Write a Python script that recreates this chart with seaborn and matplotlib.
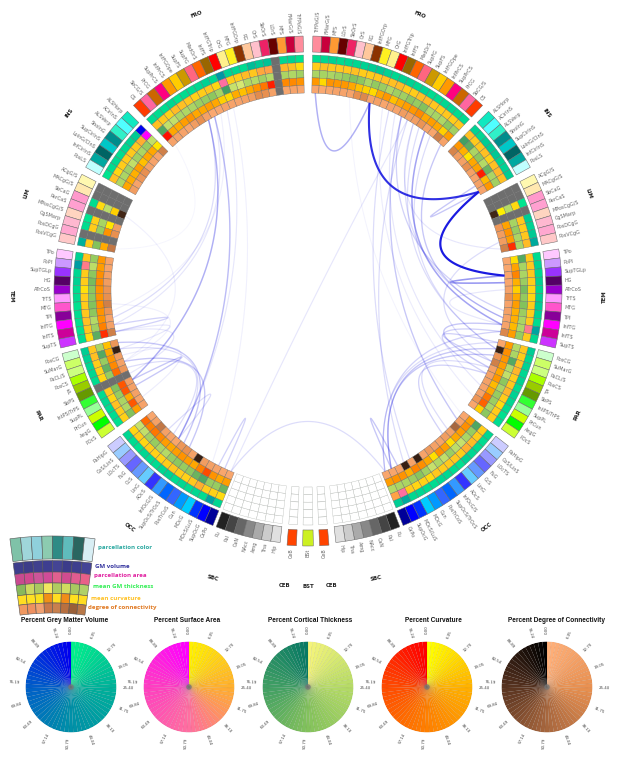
import numpy as np
import matplotlib
matplotlib.use("Agg")
import matplotlib.pyplot as plt
import seaborn as sns

W, H = 618, 757
CX, CY = 308, 290

n = np.nan  # parcels with no data are drawn grey

# parcel names per lobe, clockwise on the right hemisphere
fro_names = ["TrFPoG/S", "FMarG/S", "MFS", "LOrS", "SbOrS", "OrS", "RG", "InfFGOrp", "MFG", "OrG", "InfFGTrip",
             "InfFS", "MedOrS", "SupFG", "SupFS", "InfFGOpe", "InfPrCS", "SupPrCS", "PrCG", "SbCG/S", "CS"]
ins_names = ["ALSHorp", "ACirInS", "ALSVerp", "ShoInG", "SupCirInS", "LoInG/CInS", "InfCirInS", "PosLS"]
lim_names = ["ACgG/S", "MACgG/S", "SbCaG", "PerCaS", "MPosCgG/S", "CgSMarp", "PosDCgG", "PosVCgG"]
tem_names = ["TPo", "PoPl", "SupTGLp", "HG", "ATrCoS", "TrTS", "MTG", "TPl", "InfTG", "InfTS", "SupTS"]
par_names = ["PosCG", "SuMarG", "PaCL/S", "PosCS", "JS", "SbPS", "IntPS/TrPS", "SupPL", "PrCun", "AngG", "POcS"]
occ_names = ["PaHipG", "CoS/LinS", "LOcTS", "FuG", "CcS", "LinG", "AOcS", "InfOcG/S", "SupOcS/TrOcS", "PosTrCoS",
             "Cun", "MOcG", "MOcS/LuS", "SupOcG", "OcPo"]
sbc_names = ["Pu", "Pal", "CaN", "NAcc", "Amg", "Tha", "Hip"]

# parcellation colours
fro_colors = ["#FF8C9C", "#C8003C", "#FF9933", "#660000", "#EE2266", "#FFC0CC", "#FFC89C", "#8C3300", "#FFF020",
              "#FFF08C", "#FF0000", "#996600", "#FF6600", "#FF6680", "#CC9900", "#FFCC00", "#FF9900", "#FF0080",
              "#CC6600", "#FF66A0", "#FF3C00"]
ins_colors = ["#10E8C0", "#50FFFF", "#30F0C8", "#008C8C", "#00C8C8", "#006464", "#00A8A0", "#C0FFFF"]
lim_colors = ["#FFF8B0", "#FFE8B0", "#FF99CC", "#FFA0D0", "#FFD4C0", "#FFB8D0", "#FFA8D0", "#FFC8C8"]
tem_colors = ["#FFC8FF", "#CC99FF", "#9933FF", "#550066", "#9900CC", "#FF99FF", "#FF55CC", "#880099", "#FF00FF",
              "#CC0099", "#CC33FF"]
par_colors = ["#CCFFCC", "#CCFF66", "#CCFF80", "#AAFF00", "#99CC00", "#669900", "#33FF33", "#99FF99", "#CCFF00",
              "#00FF00", "#CCFF33"]
occ_colors = ["#CCCCFF", "#99CCFF", "#9999FF", "#6666FF", "#6699FF", "#66CCFF", "#3333FF", "#3399FF", "#0066FF",
              "#3366FF", "#0099FF", "#00CCFF", "#0033FF", "#0000FF", "#000099"]
sbc_colors = ["#222222", "#444444", "#666666", "#888888", "#AAAAAA", "#CCCCCC", "#E0E0E0"]
ceb_color = "#FF4400"
bst_color = "#CCF022"

# percent values, rings are GM volume, area, thickness, curvature, degree
fro_r = [[8, 10, 12, 8, 10, 10, 12, 14, 16, 12, 10, 12, 12, 10, 12, 8, 8, 10, 10, 8, 8],
         [14, 18, 16, 16, 16, 18, 14, 14, 16, 18, 18, 20, 14, 14, 18, 20, 16, 14, 16, 14, 16],
         [30, 32, 30, 35, 42, 50, 45, 30, 42, 38, 28, 36, 35, 45, 40, 50, 30, 32, 28, 45, 35],
         [38, 12, 40, 38, 38, 30, 20, 15, 12, 30, 38, 20, 30, 35, 38, 45, 30, 35, 30, 15, 35],
         [8, 6, 8, 10, 10, 10, 25, 30, 10, 12, 8, 10, 10, 15, 12, 14, 22, 10, 8, 35, 10]]
fro_l = [[6, 12, 10, n, 18, 15, 20, 8, 10, 12, 45, 10, 12, 10, 8, 8, 5, 10, 8, 8, 8],
         [8, 18, 22, n, 30, 28, 16, 20, 14, 14, 50, 10, 16, 14, 12, 16, 18, 20, 12, 16, 18],
         [35, 28, 30, n, 25, 35, 25, 28, 12, 18, 75, 32, 45, 40, 38, 30, 28, 30, 20, 20, 70],
         [40, 45, 45, n, 90, 55, 40, 30, 20, 28, 12, 15, 30, 35, 30, 30, 40, 35, 28, 30, 95],
         [8, 10, 8, n, 12, 25, 28, 15, 12, 10, 10, 12, 8, 6, 12, 25, 15, 8, 10, 12, 10]]
ins_r = [[12, 10, 14, 15, 16, 12, 12, 14],
         [18, 15, 16, 18, 12, 18, 22, 18],
         [75, 65, 30, 45, 25, 60, 30, 35],
         [38, 25, 8, 30, 32, 90, 22, 38],
         [32, 15, 12, 25, 12, 10, 12, 10]]
ins_l = [[100, 15, 12, 10, 8, 10, 8, 5],
         [100, 25, 15, 15, 14, 14, 10, 18],
         [20, 40, 30, 35, 20, 35, 30, 28],
         [8, 30, 30, 20, 35, 25, 28, 30],
         [35, 10, 10, 12, 25, 20, 10, 15]]
lim_r = [[n, n, 5, n, 14, 12, 15, 30],
         [n, n, 8, n, 16, 14, 16, 20],
         [n, n, 25, n, 32, 40, 30, 30],
         [n, n, 5, n, 32, 40, 35, 85],
         [n, n, 82, n, 20, 15, 15, 35]]
lim_l = [[n, n, 8, n, 5, 8, n, 25],
         [n, n, 8, n, 12, 14, n, 14],
         [n, n, 22, n, 32, 40, n, 50],
         [n, n, 15, n, 8, 40, n, 28],
         [n, n, 82, n, 15, 25, n, 40]]
tem_r = [[8, 12, 10, 12, 10, 12, 14, 12, 8, 35, 10],
         [15, 16, 16, 14, 10, 10, 14, 14, 16, 45, 15],
         [68, 32, 30, 38, 55, 42, 50, 38, 30, 28, 40],
         [10, 32, 48, 25, 15, 28, 35, 25, 25, 22, 35],
         [8, 8, 8, 8, 10, 25, 10, 12, 10, 10, 30]]
tem_l = [[12, 40, 10, 12, 8, 8, 6, 8, 6, 6, 8],
         [16, 45, 14, 14, 6, 14, 14, 16, 18, 16, 8],
         [40, 22, 45, 55, 45, 45, 50, 45, 25, 35, 65],
         [38, 35, 42, 45, 40, 40, 42, 40, 40, 50, 85],
         [10, 10, 12, 15, 22, 25, 35, 22, 10, 12, 35]]
par_r = [[14, 10, 12, 10, 12, 8, 12, 10, 8, 6, 8],
         [16, 14, 18, 22, 14, 16, 22, 14, 8, 14, 14],
         [25, 30, 68, 25, 20, 45, 30, 40, 38, 30, 45],
         [35, 42, 38, 35, 30, 38, 22, 30, 55, 65, 15],
         [8, 85, 22, 35, 12, 12, 12, 10, 10, 20, 8]]
par_l = [[14, 12, 10, 10, 8, n, 8, 10, 8, 8, 6],
         [16, 18, 14, 12, 10, n, 16, 10, 18, 14, 12],
         [30, 68, 40, 62, 40, n, 50, 40, 30, 28, 50],
         [20, 30, 40, 45, 60, n, 70, 70, 28, 70, 35],
         [20, 85, 15, 12, 20, n, 14, 12, 12, 10, 10]]
occ_r = [[10, 8, 8, 10, 12, 6, 8, 10, 10, 8, 8, 10, 10, 30, 14],
         [14, 14, 20, 25, 14, 16, 15, 14, 16, 8, 12, 10, 14, 50, 30],
         [70, 40, 30, 18, 22, 38, 20, 28, 18, 35, 48, 38, 30, 30, 25],
         [35, 42, 35, 30, 10, 35, 42, 10, 30, 42, 48, 25, 40, 40, 35],
         [8, 10, 50, 12, 15, 10, 12, 18, 10, 85, 10, 85, 10, 8, 8]]
occ_l = [[10, 8, 6, 10, 8, 8, 10, 12, 8, 10, 8, 10, 8, 35, 10],
         [10, 14, 10, 14, 12, 12, 14, 16, 14, 12, 16, 25, 14, 12, 8],
         [18, 20, 35, 40, 30, 25, 40, 45, 40, 45, 60, 70, 40, 40, 60],
         [60, 50, 55, 45, 35, 30, 35, 40, 35, 30, 50, 75, 40, 30, 35],
         [8, 12, 40, 12, 10, 8, 20, 25, 12, 85, 15, 12, 10, 8, 8]]

# links, hemisphere + parcel at both ends and strength
links_r = [("TrFPoG/S", "MFG", .4), ("MFG", "PosLS", .9), ("PosLS", "SupTGLp", .98), ("SupFG", "CoS/LinS", .3),
           ("SupPrCS", "InfTS", .45), ("CS", "InfTG", .3), ("SupFG", "TPl", .25), ("PosDCgG", "PosCS", .2),
           ("SupTS", "OcPo", .25), ("PosCG", "OcPo", .2), ("SuMarG", "SupOcG", .3), ("PaCL/S", "SupOcG", .3),
           ("PosCG", "PosCS", .25), ("SupTGLp", "HG", .5), ("InfCirInS", "PosLS", .3), ("MOcS/LuS", "SupOcG", .3),
           ("SupFS", "MOcG", .2), ("InfFS", "Cun", .2), ("MedOrS", "SupPL", .15), ("InfFGTrip", "AngG", .12),
           ("InfFGOpe", "InfTG", .2), ("InfPrCS", "SuMarG", .2), ("SupTS", "SbPS", .25), ("InfTS", "JS", .3),
           ("SbPS", "CcS", .25), ("JS", "FuG", .2), ("PosVCgG", "InfFGOpe", .15), ("ATrCoS", "InfTS", .15),
           ("PrCG", "SuMarG", .2), ("OrS", "PaHipG", .08)]
links_l = [("SupFS", "IntPS/TrPS", .4), ("SupFS", "InfTG", .2), ("SupFG", "LinG", .35), ("SupFG", "InfTS", .15),
           ("InfFS", "LinG", .15), ("MedOrS", "TPl", .1), ("SbCaG", "PosCS", .1), ("IntPS/TrPS", "SupPL", .3),
           ("MOcS/LuS", "SupOcG", .25), ("InfTS", "SupTS", .25), ("PosCG", "AOcS", .3), ("PosCS", "InfOcG/S", .3),
           ("SuMarG", "LinG", .2), ("FuG", "LinG", .2), ("JS", "CcS", .2), ("SupTS", "SuMarG", .15),
           ("MTG", "PosCS", .1), ("CS", "PosVCgG", .06), ("PaCL/S", "AngG", .12), ("SupTS", "SbPS", .15),
           ("InfFGTrip", "MOcG", .1)]
links_x = [("OcPo", "OcPo", .2), ("OcPo", "SupFS", .15)]

# colour key
pie_titles = ["Percent Grey Matter Volume", "Percent Surface Area", "Percent Cortical Thickness", "Percent Curvature",
              "Percent Degree of Connectivity"]
pie_ticks = [0.00, 6.35, 12.70, 19.05, 25.40, 31.75, 38.10, 44.44, 50.79, 57.14, 63.49, 69.84, 76.19, 82.54, 88.89, 95.24]
gm_stops = ["#00F08C", "#00B09A", "#0090A8", "#0060C8", "#0000F0"]
area_stops = ["#FFF000", "#FFAE30", "#FF6FA0", "#FF40C0", "#FF00FF"]
thick_stops = ["#F4F47A", "#B4DA66", "#84C25C", "#42A064", "#087A64"]
curv_stops = ["#FFFF00", "#FFB000", "#FF8000", "#FF4C00", "#FF0000"]
conn_stops = ["#FFB07A", "#E89050", "#A8673E", "#5A3420", "#000000"]

# little fan at lower left explaining the rings
fan_rows = [["#7FC2A8", "#9FD6DA", "#8FD0DC", "#8CCBB0", "#2E8B85", "#5FBCBC", "#2A6660", "#D8EEF4"],
            ["#3E3E8C", "#3C3C88", "#40408E", "#3E3E90", "#444494", "#3C3C8A", "#3E3E8E", "#444496"],
            ["#C84A8F", "#D0488F", "#CC5599", "#D04C98", "#E0608F", "#D04C90", "#E05C90", "#E86088"],
            ["#88B85C", "#CCD860", "#AAC860", "#F0E860", "#B0CC60", "#D0DC60", "#A8C860", "#B0D068"],
            ["#FFDD22", "#FFE022", "#F8E020", "#F09018", "#FFDD22", "#F08C18", "#FFE020", "#FFDD22"],
            ["#F09860", "#EE9060", "#F0A070", "#C8784A", "#C8804E", "#B87040", "#9A6038", "#B87848"]]
fan_labels = ["parcellation color", "GM volume", "parcellation area", "mean GM thickness", "mean curvature",
              "degree of connectivity"]
fan_label_colors = ["#2AA8A0", "#33339E", "#E020A0", "#33EE55", "#FFC020", "#E07820"]

sns.set_theme(style="white")
plt.rcParams["font.family"] = ["DejaVu Sans"]

ring_cmaps = [sns.blend_palette(s, as_cmap=True) for s in [gm_stops, area_stops, thick_stops, curv_stops, conn_stops]]

fig = plt.figure(figsize=(W / 100, H / 100), dpi=100)
fig.patch.set_facecolor("white")


def polar_axes(cx, cy, r, rmax, z=1):
    ax = fig.add_axes([(cx - r) / W, (H - cy - r) / H, 2 * r / W, 2 * r / H], projection="polar", zorder=z)
    ax.set_theta_zero_location("N")
    ax.set_theta_direction(-1)
    ax.set_ylim(0, rmax)
    ax.set_axis_off()
    ax.patch.set_alpha(0)
    return ax


ax = polar_axes(CX, CY, 300, 300, z=2)

# lobe spans in degrees from the top
lobes = [("FRO", fro_names, fro_colors, fro_r, fro_l, 1.1, 43.4, 22.0),
         ("INS", ins_names, ins_colors, ins_r, ins_l, 45.3, 61.1, 53.4),
         ("LIM", lim_names, lim_colors, lim_r, lim_l, 62.9, 79.0, 71.0),
         ("TEM", tem_names, tem_colors, tem_r, tem_l, 80.7, 103.2, 91.3),
         ("PAR", par_names, par_colors, par_r, par_l, 104.5, 125.7, 115.0),
         ("OCC", occ_names, occ_colors, occ_r, occ_l, 127.9, 158.0, 143.0),
         ("SBC", sbc_names, sbc_colors, None, None, 158.8, 173.7, None)]

R_IN, R_RING, R_OUT0, R_OUT1 = 197, 7.6, 238, 254
LABEL_R = 257
anchors = {}


def draw_outer(sign, a, wd, color, name):
    th = np.radians(sign * a)
    ax.bar(th, R_OUT1 - R_OUT0, width=np.radians(wd), bottom=R_OUT0, color=color, edgecolor="#666666", linewidth=.35)
    if sign > 0:
        ax.text(th, LABEL_R, name, rotation=90 - a, rotation_mode="anchor", ha="left", va="center",
                fontsize=3.5, color="#666666", clip_on=False)
    else:
        ax.text(th, LABEL_R, name, rotation=a - 90, rotation_mode="anchor", ha="right", va="center",
                fontsize=3.5, color="#666666", clip_on=False)


for sign, side in [(1, "R"), (-1, "L")]:
    for lobe, names, colors, right, left, a0, a1, la in lobes:
        wd = (a1 - a0) / len(names)
        vals = right if sign > 0 else left
        for i, name in enumerate(names):
            a = a0 + (i + .5) * wd
            anchors[(side, name)] = np.radians(sign * a)
            draw_outer(sign, a, wd, colors[i], name)
            for k in range(5):
                rb = R_IN + (4 - k) * R_RING
                if vals is None:
                    fc, ec = "white", "#B4B8B4"
                else:
                    v = vals[k][i]
                    fc = "#6E6E6E" if np.isnan(v) else ring_cmaps[k](v / 100)
                    ec = "#6E6E6E" if np.isnan(v) else "#666666"
                ax.bar(np.radians(sign * a), R_RING, width=np.radians(wd), bottom=rb, color=fc, edgecolor=ec,
                       linewidth=.25)
        if la is not None:
            rot = sign * la if la < 90 else sign * (la - 180)
            ax.text(np.radians(sign * la), 297, lobe, rotation=-rot, rotation_mode="anchor", ha="center", va="center",
                    fontsize=3.9, fontweight="bold", color="#222222", clip_on=False)

# cerebellum and brain stem columns
stem = [("CeB", 1, 176.35, 2.1, ceb_color), ("CeB", -1, 176.35, 2.1, ceb_color), ("BSt", 1, 180.0, 2.4, bst_color)]
for name, sign, a, wd, col in stem:
    th = np.radians(sign * a)
    ax.bar(th, R_OUT1 - R_OUT0, width=np.radians(wd), bottom=R_OUT0 + 2, color=col, edgecolor="#666666", linewidth=.35)
    for k in range(5):
        ax.bar(th, R_RING, width=np.radians(wd), bottom=R_IN + k * R_RING, color="white", edgecolor="#B4B8B4",
               linewidth=.3)
    ax.text(th, LABEL_R + 2, name, rotation=90, rotation_mode="anchor", ha="right", va="center", fontsize=3.5,
            color="#666666", clip_on=False)
for txt, a, r, rot in [("CEB", 175.5, 296, 0), ("CEB", -175.5, 296, 0), ("BST", 180.0, 296, 0),
                       ("SBC", 166.7, 296, 12), ("SBC", -161.7, 303, -15)]:
    ax.text(np.radians(a), r, txt, rotation=rot, rotation_mode="anchor", ha="center", va="center", fontsize=3.9,
            fontweight="bold", color="#222222", clip_on=False)

# links as quadratic curves pulled toward the middle of the circle
links = [("R", p, "R", q, s) for p, q, s in links_r] + [("L", p, "L", q, s) for p, q, s in links_l] \
    + [("L", p, "R", q, s) for p, q, s in links_x]
t = np.linspace(0, 1, 80)[:, None]
for h0, p0, h1, p1, s in sorted(links, key=lambda l: l[4]):
    a0, a1 = anchors[(h0, p0)], anchors[(h1, p1)]
    A = R_IN * np.array([np.sin(a0), np.cos(a0)])
    B = R_IN * np.array([np.sin(a1), np.cos(a1)])
    C = .45 * (A + B) / 2
    xy = (1 - t) ** 2 * A + 2 * t * (1 - t) * C + t ** 2 * B
    ax.plot(np.arctan2(xy[:, 0], xy[:, 1]), np.hypot(xy[:, 0], xy[:, 1]), color="#1414E0", alpha=s ** 1.2,
            linewidth=.7 + .9 * s, solid_capstyle="butt")

# fan legend
fan = polar_axes(52.5, 858, 330, 330, z=1)
fan_w = np.radians(15.2) / 8
for r_i, row in enumerate(fan_rows):
    bottom, height = [(299, 23), (286, 11.5), (275, 11), (264.5, 10.5), (255, 9.5), (245, 10)][r_i]
    for c_i, col in enumerate(row):
        fan.bar(np.radians(-7.6) + (c_i + .5) * fan_w, height, width=fan_w, bottom=bottom, color=col,
                edgecolor="#555555", linewidth=.4)
for lab, lc, lx, ly in zip(fan_labels, fan_label_colors, [98, 95, 94, 93, 91, 88], [548, 566, 576, 587, 598, 608]):
    fig.text(lx / W, 1 - ly / H, lab, color=lc, fontsize=4.4, fontweight="bold", family="Open Sans", va="center")

# colour key pies
pie_x = [71, 189, 308, 427, 547]
title_x = [64.5, 187, 310, 433, 557]
steps = 63
for title, cx, tx, cmap in zip(pie_titles, pie_x, title_x, ring_cmaps):
    pie = polar_axes(cx, 687, 45.5, 1, z=3)
    th = (np.arange(steps) + .5) * 2 * np.pi / steps
    pie.bar(th, 1, width=2 * np.pi / steps, color=[cmap(i / (steps - 1)) for i in range(steps)],
            edgecolor=(0, 0, 0, .12), linewidth=.2)
    pie.bar([0], [.06], width=2 * np.pi, color="#777777", linewidth=0, alpha=.8)
    for tick in pie_ticks:
        deg = tick * 3.6
        rot = 90 - deg if deg <= 180 else 270 - deg
        pie.text(np.radians(deg), 1.25, f"{tick:.2f}", rotation=rot, rotation_mode="anchor", ha="center", va="center",
                 fontsize=2.9, color="#444444", clip_on=False)
    fig.text(tx / W, 1 - 620.5 / H, title, ha="center", va="center", fontsize=4.7, fontweight="bold",
             family="Liberation Sans", color="#111111")

fig.savefig("out.png", dpi=100)
